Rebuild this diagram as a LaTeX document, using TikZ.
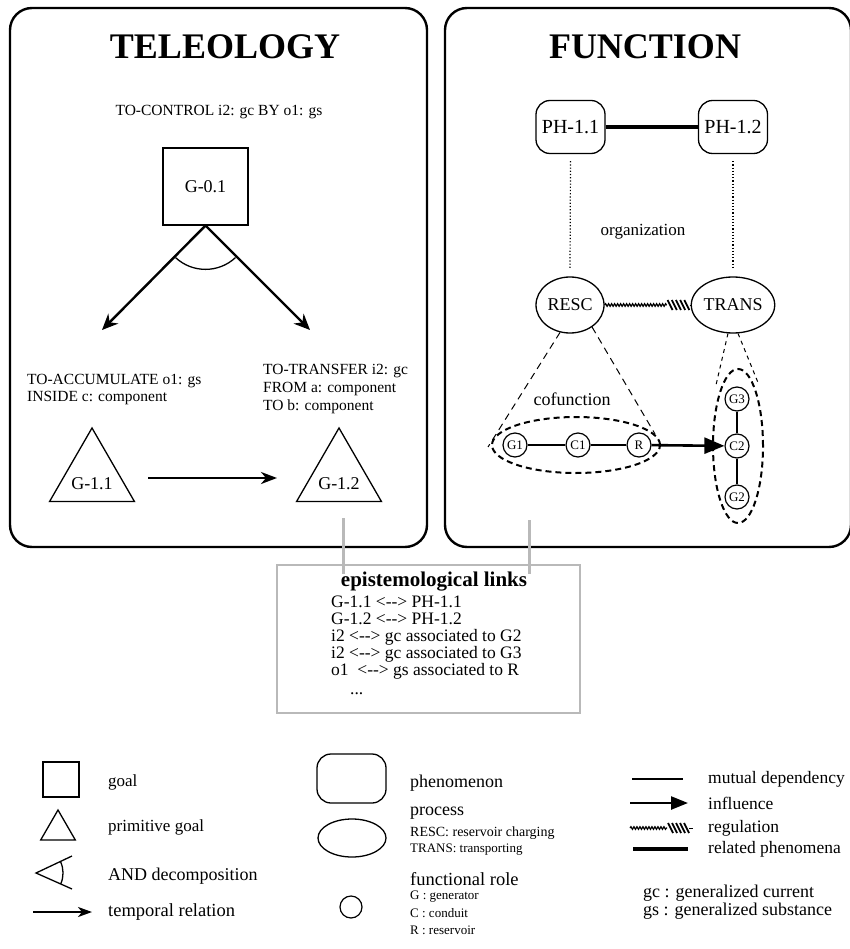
\documentclass[tikz,border=0pt]{standalone}
\usepackage{fontspec}
\setmainfont{Liberation Serif}
\usetikzlibrary{shapes.geometric,arrows.meta,calc,decorations.pathmorphing}
\newcommand{\myfs}[2]{\fontsize{#1}{#2}\selectfont}
\begin{document}
\begin{tikzpicture}[x=1pt,y=-1pt,
 panel/.style={draw,line width=2.4pt,rounded corners=22pt},
 title/.style={font=\bfseries\myfs{36}{40}},
 lbl/.style={font=\myfs{15.5}{17},align=left,inner sep=0},
 leg/.style={font=\myfs{17}{19},anchor=west,inner sep=0},
 legs/.style={font=\myfs{13}{15},anchor=west,inner sep=0},
 goalbox/.style={draw,line width=1.1pt,minimum width=85pt,minimum height=77pt,font=\myfs{18}{20},inner sep=0},
 prim/.style={draw,line width=1.3pt,regular polygon,regular polygon sides=3,minimum size=98pt,inner sep=0},
 phen/.style={draw,line width=1.3pt,rounded corners=14pt,minimum width=69pt,minimum height=53pt,font=\myfs{20}{22},inner sep=0},
 proc/.style={draw,line width=1.3pt,ellipse,minimum width=68pt,minimum height=56pt,font=\myfs{18}{20},inner sep=0},
 role/.style={draw,line width=1.2pt,circle,minimum size=24pt,font=\myfs{13}{13},inner sep=0},
 andarr/.style={line width=2.4pt,-{Stealth[length=16pt,width=14pt]}},
 tempo/.style={line width=2.6pt,-{Stealth[length=16pt,width=12pt,inset=5pt]}},
 infl/.style={line width=2.6pt,-{Triangle[length=20pt,width=16pt]}},
 mutual/.style={line width=1.3pt},
 relph/.style={line width=4pt},
 orgl/.style={line width=1.2pt,dotted},
 cone/.style={line width=1pt,dash pattern=on 7pt off 5pt},
 grp/.style={line width=2pt,dash pattern=on 6pt off 4pt},
 glink/.style={line width=3pt,gray!55},
 reg/.style={line width=1.2pt,decorate,decoration={snake,amplitude=1.3pt,segment length=3pt}},
 hatch/.style={line width=1.8pt},
 legr/.style={font=\myfs{17.5}{20},anchor=west,inner sep=0},
]
\useasboundingbox (0,0) rectangle (849,949);
\fill[white] (0,0) rectangle (849,949);

% panels
\draw[panel] (10,8) rectangle (427,547);
\draw[panel] (445,8) rectangle (851,547);
\node[title] (tt) at (225,47) {TELEOLOGY};
\node[title] (ft) at (645,47) {FUNCTION};

% teleology
\node[lbl] (ctl) at (219,112) {TO-CONTROL i2: gc BY o1: gs};
\node[goalbox] (g01) at (205.5,186.5) {G-0.1};
\coordinate (andL) at (102,330);
\coordinate (andR) at (310,330);
\draw[andarr] (g01.south) -- (andL);
\draw[andarr] (g01.south) -- (andR);
\draw[line width=1.3pt] ($(g01.south)+(-30,32)$) arc[start angle=-133,end angle=-47,radius=44pt];
\node[lbl,anchor=west] (acc) at (27,390) {TO-ACCUMULATE o1: gs\\INSIDE c: component};
\node[lbl,anchor=west,font=\myfs{15.5}{18}] (trf) at (263,389) {TO-TRANSFER i2: gc\\FROM a: component\\TO b: component};
\node[prim] (g11) at (92,477) {};
\node[font=\myfs{18}{20}] (g11t) at (92,484) {G-1.1};
\node[prim] (g12) at (339,477) {};
\node[font=\myfs{18}{20}] (g12t) at (339,484) {G-1.2};
\draw[tempo] ([xshift=56pt,yshift=-1pt]g11.center) -- ([xshift=-62pt,yshift=-1pt]g12.center);

% function
\node[phen] (ph11) at (570.5,127) {PH-1.1};
\node[phen] (ph12) at (733,127) {PH-1.2};
\draw[relph] (ph11) -- (ph12);
\node[proc] (resc) at (570,305) {RESC};
\node[proc] (trans) at (733,305) {TRANS};
\draw[orgl] ([yshift=-7pt]ph11.south) -- ([yshift=7pt]resc.north);
\draw[orgl] ([yshift=-7pt]ph12.south) -- ([yshift=7pt]trans.north);
\node[font=\myfs{17}{19}] (org) at (643,232) {organization};

\coordinate (rh) at ($(resc.east)!0.72!(trans.west)$);
\draw[reg] (resc.east) -- (rh);
\foreach \k in {0,...,4} \draw[hatch] ($(rh)+(\k*4.2+1,-5)$) -- ++(5,10);
\draw[line width=1pt] ($(rh)+(23,0)$) -- (trans.west);

\node[font=\myfs{18}{20}] (cof) at (572,399) {cofunction};
\coordinate (coneL) at (488,447);
\coordinate (coneR) at (655,434);
\draw[cone] (resc.250) -- (coneL);
\draw[cone] (resc.-45) -- (coneR);
\draw[grp] (576,445) ellipse[x radius=84pt,y radius=28pt];
\node[role] (G1) at (515,445) {G1};
\node[role] (C1) at (578,445) {C1};
\node[role] (R) at (639,445) {R};
\draw[mutual] (G1) -- (C1) -- (R);
\node[role] (C2) at (737,446) {C2};
\node[role] (G3) at (737,399) {G3};
\node[role] (G2) at (737,497) {G2};
\draw[mutual] (G3) -- (C2) -- (G2);
\draw[infl] (R) -- (C2);
\draw[grp] (738,446) ellipse[x radius=25pt,y radius=77pt];
\coordinate (tL) at (716,385);
\coordinate (tR) at (759,385);
\draw[cone,dash pattern=on 4pt off 4pt] (trans.260) -- (tL);
\draw[cone,dash pattern=on 4pt off 4pt] (trans.-80) -- (tR);

% epistemological links
\node[draw=gray!55,line width=2.5pt,minimum width=303pt,minimum height=148pt,inner sep=0] (epi) at (428.5,639) {};
\coordinate (lk1) at (343,518);
\coordinate (lk2) at (529,520);
\draw[glink] (lk1) -- ($(lk1 |- epi.north)+(0,10)$);
\draw[glink] (lk2) -- ($(lk2 |- epi.north)+(0,10)$);
\node[font=\bfseries\myfs{21}{23}] (epit) at (434,582) {epistemological links};
\node[font=\myfs{17.5}{17},align=left,anchor=north west,inner sep=0] (epil) at (331,596)
 {G-1.1 <-{}-> PH-1.1\\G-1.2 <-{}-> PH-1.2\\i2 <-{}-> gc associated to G2\\i2 <-{}-> gc associated to G3\\o1\ \ <-{}-> gs associated to R\\[2pt]\hspace*{19pt}...};

% legend left
\node[draw,line width=1.2pt,minimum width=36pt,minimum height=35pt,inner sep=0] (lgoal) at (61,779.5) {};
\node[leg] (lgoalt) at (108,782) {goal};
\node[draw,line width=1.3pt,regular polygon,regular polygon sides=3,minimum size=40pt,inner sep=0] (lprim) at (58,830) {};
\node[leg] (lprimt) at (108,827) {primitive goal};
\coordinate (andv) at (36,873);
\coordinate (andu) at (72,856);
\coordinate (andd) at (72,889);
\draw[line width=1.3pt] (andu) -- (andv) -- (andd);
\draw[line width=1.3pt] ($(andv)+(24.7,11)$) arc[start angle=-24,end angle=25,radius=27pt];
\node[leg,font=\myfs{18}{20}] (landt) at (108,876) {AND decomposition};
\coordinate (tl1) at (33,912);
\coordinate (tl2) at (92,912);
\draw[line width=2pt,-{Stealth[length=14pt,width=10pt,inset=4pt]}] (tl1) -- (tl2);
\node[leg,font=\myfs{18.5}{20}] (ltempt) at (108,912) {temporal relation};

% legend middle
\node[phen,minimum height=49pt] (lph) at (351.5,778.5) {};
\node[proc,minimum height=38pt] (lpr) at (352,838) {};
\node[role,minimum size=22pt] (lrole) at (351,907) {};
\node[leg,font=\myfs{18}{20}] (lpht) at (410,783) {phenomenon};
\node[leg,font=\myfs{18}{20}] (lprt) at (410,813) {process};
\node[legs,font=\myfs{14}{16}] (lpr1) at (410,833) {RESC: reservoir charging};
\node[legs] (lpr2) at (410,850) {TRANS: transporting};
\node[leg,font=\myfs{18.5}{20}] (lrot) at (410,879) {functional role};
\node[legs] (lro1) at (410,897) {G : generator};
\node[legs] (lro2) at (410,913) {C : conduit};
\node[legs] (lro3) at (410,930) {R : reservoir};

% legend right
\coordinate (lm1) at (632,779);
\coordinate (lm2) at (683,779);
\draw[mutual] (lm1) -- (lm2);
\coordinate (li1) at (630,803);
\coordinate (li2) at (688,803);
\draw[line width=2.4pt,-{Triangle[length=17pt,width=13pt]}] (li1) -- (li2);
\coordinate (lr1) at (630,828);
\coordinate (lr2) at (667,828);
\draw[reg] (lr1) -- (lr2);
\foreach \k in {0,...,4} \draw[hatch] ($(lr2)+(\k*4+1,-5)$) -- ++(5,10);
\draw[line width=1pt] ($(lr2)+(22,0)$) -- ++(4,0);
\coordinate (lp1) at (633,849);
\coordinate (lp2) at (688,849);
\draw[relph] (lp1) -- (lp2);
\node[legr] (lmt) at (708,779) {mutual dependency};
\node[legr] (lit) at (708,803) {influence};
\node[legr] (lrt) at (708,828) {regulation};
\node[legr] (lpt) at (708,849) {related phenomena};
\node[legr,font=\myfs{18}{20}] (lgc) at (643,893) {gc : generalized current};
\node[legr,font=\myfs{18}{20}] (lgs) at (643,911) {gs : generalized substance};
\end{tikzpicture}
\end{document}
